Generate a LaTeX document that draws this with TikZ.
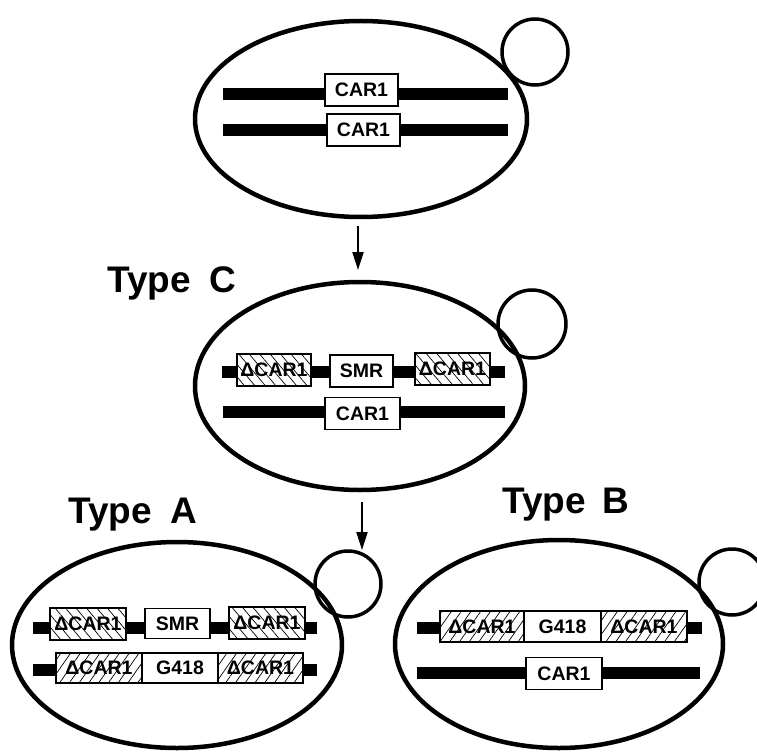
\documentclass[tikz,border=0pt]{standalone}
\usepackage{fontspec}
\setmainfont{Liberation Sans}
\usetikzlibrary{arrows.meta,patterns.meta}
\begin{document}
\begin{tikzpicture}[x=1pt,y=-1pt,
  cellwall/.style={line width=4.5pt},
  bud/.style={line width=3.5pt},
  chrom/.style={line width=12pt},
  gene/.style={draw, line width=1.1pt, fill=white, inner sep=0pt,
    minimum height=32pt, font=\fontsize{19.5}{19.5}\selectfont\bfseries},
  hatchback/.style={gene, postaction={pattern={Lines[angle=-50,distance=8pt,line width=0.7pt]}}},
  hatchfwd/.style={gene, postaction={pattern={Lines[angle=55,distance=8pt,line width=0.7pt]}}},
  typelabel/.style={anchor=base west, inner sep=0pt, font=\fontsize{37}{37}\selectfont\bfseries},
  step arrow/.style={line width=2pt, -{Triangle[length=18pt,width=11pt]}}
]
\useasboundingbox (0,0) rectangle (757,754);

% ---------- parent cell ----------
\draw[cellwall] (361,119) ellipse [x radius=166, y radius=98];
\draw[bud] (535,52) circle [radius=33];
\coordinate (t1l) at (223,94);  \coordinate (t1r) at (508,94);
\coordinate (t2l) at (223,130); \coordinate (t2r) at (508,130);
\draw[chrom] (t1l) -- (t1r);
\draw[chrom] (t2l) -- (t2r);
\node[gene, minimum width=73pt] (t1car) at (361.5,90) {CAR1};
\node[gene, minimum width=73pt] (t2car) at (363.5,130) {CAR1};

% ---------- step 1 ----------
\coordinate (a1s) at (358,226);
\coordinate (a1e) at (358,270);
\draw[step arrow] (a1s) -- (a1e);

% ---------- Type C ----------
\node[typelabel] (labC) at (107,292) {Type\hspace{0.5em}C};
\draw[cellwall] (360,386) ellipse [x radius=165, y radius=104];
\draw[bud] (532,324) circle [radius=34];
\coordinate (c1l) at (222,372); \coordinate (c1r) at (505,372);
\coordinate (c2l) at (223,412); \coordinate (c2r) at (505,412);
\draw[chrom] (c1l) -- (c1r);
\draw[chrom] (c2l) -- (c2r);
\node[hatchback, minimum width=74pt] (c1a) at (274,370) {ΔCAR1};
\node[gene, minimum width=63pt] (c1s) at (361.5,371) {SMR};
\node[hatchback, minimum width=75pt] (c1b) at (452.5,369) {ΔCAR1};
\node[gene, minimum width=75pt] (c2car) at (362.5,413.5) {CAR1};

% ---------- step 2 ----------
\coordinate (a2s) at (362,502);
\coordinate (a2e) at (362,550);
\draw[step arrow] (a2s) -- (a2e);

% ---------- Type A ----------
\node[typelabel] (labA) at (68,523) {Type\hspace{0.5em}A};
\draw[cellwall] (177,645) ellipse [x radius=165, y radius=103];
\draw[bud] (348,584) circle [radius=33];
\coordinate (A1l) at (33,627.5); \coordinate (A1r) at (317,627.5);
\coordinate (A2l) at (33,670);   \coordinate (A2r) at (317,670);
\draw[chrom] (A1l) -- (A1r);
\draw[chrom] (A2l) -- (A2r);
\node[hatchback, minimum width=76pt] (A1a) at (88,624) {ΔCAR1};
\node[gene, minimum width=65pt, minimum height=30pt] (A1s) at (177.5,623.5) {SMR};
\node[hatchback, minimum width=76pt] (A1b) at (267,623) {ΔCAR1};
\node[hatchfwd, minimum width=86pt, minimum height=30pt] (A2a) at (99,668) {ΔCAR1};
\node[gene, minimum width=76pt, minimum height=30pt] (A2g) at (180,668) {G418};
\node[hatchfwd, minimum width=85pt, minimum height=30pt] (A2b) at (260.5,668) {ΔCAR1};

% ---------- Type B ----------
\node[typelabel] (labB) at (502,513) {Type\hspace{0.45em}B};
\draw[cellwall] (559,644) ellipse [x radius=164, y radius=104];
\draw[bud] (732,582) circle [radius=33];
\coordinate (B1l) at (417,627.5); \coordinate (B1r) at (702,627.5);
\coordinate (B2l) at (417,672.5); \coordinate (B2r) at (700,672.5);
\draw[chrom] (B1l) -- (B1r);
\draw[chrom] (B2l) -- (B2r);
\node[hatchfwd, minimum width=84pt, minimum height=31pt] (B1a) at (482,626.5) {ΔCAR1};
\node[gene, minimum width=77pt, minimum height=31pt] (B1g) at (562.5,626.5) {G418};
\node[hatchfwd, minimum width=86pt, minimum height=31pt] (B1b) at (644,626.5) {ΔCAR1};
\node[gene, minimum width=76pt] (B2car) at (564,673.5) {CAR1};
\end{tikzpicture}
\end{document}
